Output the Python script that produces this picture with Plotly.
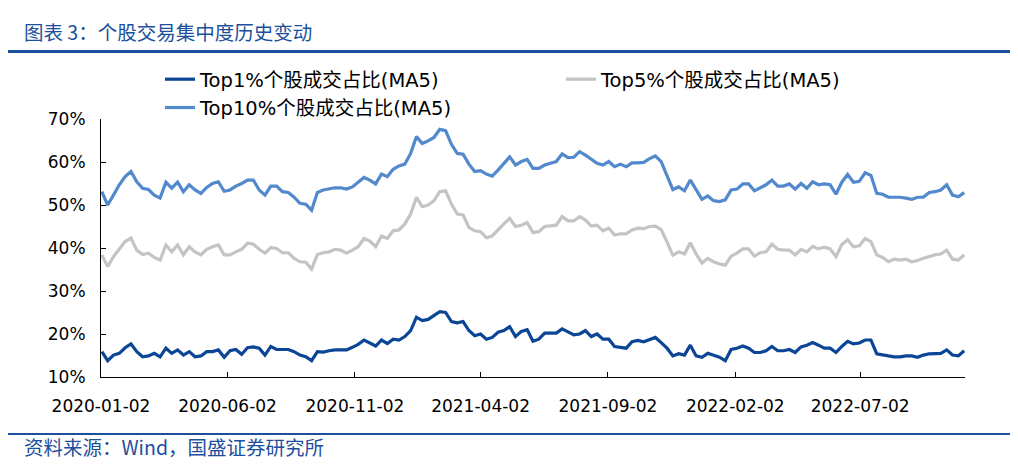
import pandas as pd
import plotly.graph_objects as go

# weekly sampled dates (Fridays) from 2020-01-03 to 2022-11-04
dates = pd.date_range("2020-01-03", periods=149, freq="7D")

top1 = [15.9, 13.8, 15.1, 15.5, 16.8, 17.7, 15.9, 14.7, 14.9, 15.5, 14.7, 16.7, 15.5, 16.3, 15.1, 15.9, 14.7, 14.9, 15.9, 15.9, 16.3, 14.6, 16.1, 16.4, 15.3,
        16.8, 17.0, 16.7, 15.1, 17.1, 16.4, 16.4, 16.4, 15.9, 15.1, 14.7, 13.8, 15.9, 15.8, 16.1, 16.3, 16.3, 16.3, 16.9, 17.6, 18.6, 18.0, 17.2, 18.6, 17.8,
        18.8, 18.6, 19.4, 20.8, 23.9, 23.1, 23.4, 24.2, 25.2, 25.0, 22.9, 22.6, 22.9, 20.8, 19.6, 20.0, 18.8, 19.2, 20.4, 20.8, 21.7, 19.4, 20.6, 21.0, 18.3,
        18.8, 20.2, 20.2, 20.2, 21.2, 20.4, 19.8, 20.0, 20.8, 19.4, 20.0, 18.8, 18.8, 17.1, 16.9, 16.7, 18.2, 18.5, 18.2, 18.8, 19.2, 18.0, 16.7, 14.9, 15.4,
        15.1, 17.4, 14.9, 14.6, 15.5, 15.1, 14.6, 13.8, 16.4, 16.7, 17.2, 16.7, 15.7, 15.7, 16.1, 17.1, 16.1, 16.1, 16.4, 15.7, 17.0, 17.4, 18.0, 17.4, 16.7,
        16.7, 15.7, 17.1, 18.3, 17.7, 17.9, 18.6, 18.6, 15.4, 15.1, 14.9, 14.7, 14.7, 14.9, 14.9, 14.6, 15.1, 15.4, 15.5, 15.5, 16.3, 15.1, 14.9, 16.1]

top5 = [38.4, 35.7, 38.0, 39.7, 41.5, 42.3, 39.5, 38.5, 38.8, 37.8, 37.2, 40.7, 39.1, 40.7, 38.4, 40.3, 39.1, 38.4, 39.7, 40.3, 40.7, 38.4, 38.4, 39.1, 39.7,
        41.1, 40.9, 39.7, 38.8, 40.1, 39.9, 38.9, 38.9, 37.6, 36.8, 36.7, 35.1, 38.5, 38.9, 39.1, 39.7, 39.5, 38.8, 39.5, 40.3, 42.2, 41.6, 40.3, 42.8, 42.2,
        44.0, 44.2, 45.6, 47.9, 51.8, 49.6, 50.0, 51.0, 53.1, 53.3, 50.2, 47.9, 47.7, 44.8, 44.0, 43.8, 42.4, 42.8, 44.3, 45.6, 46.9, 45.0, 45.3, 45.9, 43.6,
        43.8, 45.0, 45.1, 45.3, 47.3, 46.3, 46.3, 47.3, 46.5, 45.1, 45.3, 44.0, 44.6, 43.0, 43.3, 43.3, 44.2, 44.6, 44.5, 45.0, 45.1, 44.3, 41.4, 38.3, 39.1,
        38.6, 41.2, 38.6, 36.5, 37.6, 36.8, 36.3, 36.0, 38.1, 38.8, 39.8, 39.8, 38.1, 38.9, 39.1, 40.9, 39.7, 39.5, 39.5, 38.4, 39.7, 39.1, 40.4, 39.8, 40.2,
        39.8, 38.0, 40.8, 41.9, 40.3, 40.5, 42.2, 41.5, 38.4, 37.8, 36.8, 37.4, 37.2, 37.4, 36.8, 37.1, 37.6, 38.0, 38.4, 38.6, 39.5, 37.4, 37.2, 38.4]

top10 = [53.1, 50.0, 52.3, 54.7, 56.6, 57.8, 55.4, 53.9, 53.6, 52.3, 51.6, 55.3, 53.9, 55.3, 53.1, 54.7, 53.5, 52.7, 54.1, 55.0, 55.4, 53.2, 53.5, 54.4, 55.0,
         55.8, 55.8, 53.5, 52.3, 54.4, 54.4, 53.1, 52.9, 51.8, 50.4, 50.2, 48.8, 52.9, 53.5, 53.7, 54.0, 54.0, 53.7, 54.2, 55.2, 56.4, 55.8, 54.9, 57.2, 56.6,
         58.3, 59.1, 59.5, 62.0, 65.9, 64.3, 64.9, 65.7, 67.6, 67.3, 64.1, 62.0, 61.8, 59.5, 57.8, 58.0, 57.2, 56.7, 58.1, 59.7, 61.2, 59.3, 60.1, 60.6, 58.5,
         58.5, 59.3, 59.7, 60.1, 61.9, 61.0, 61.1, 62.4, 61.6, 60.6, 59.7, 59.3, 60.1, 58.9, 59.5, 58.9, 59.8, 59.8, 59.9, 60.8, 61.4, 60.1, 56.6, 53.6, 54.2,
         53.3, 55.8, 53.5, 51.3, 52.1, 51.0, 50.8, 51.2, 53.5, 53.7, 54.9, 54.9, 53.3, 53.9, 54.7, 55.8, 54.4, 54.4, 54.9, 53.7, 55.0, 53.9, 55.4, 54.7, 54.9,
         54.7, 52.5, 55.3, 57.1, 55.3, 55.5, 57.5, 56.9, 52.7, 52.5, 51.8, 51.8, 51.8, 51.6, 51.3, 51.8, 51.8, 52.9, 53.1, 53.5, 54.7, 52.3, 51.9, 52.9]

series_names = ["Top1%个股成交占比(MA5)", "Top5%个股成交占比(MA5)", "Top10%个股成交占比(MA5)"]
tick_labels = ["2020-01-02", "2020-06-02", "2020-11-02", "2021-04-02", "2021-09-02", "2022-02-02", "2022-07-02"]
y_ticks = [10, 20, 30, 40, 50, 60, 70]

title_text = "图表 3：个股交易集中度历史变动"
source_text = "资料来源：Wind，国盛证券研究所"

colors = ["#0B4596", "#C4C4C4", "#5289CC"]
FONT = "DejaVu Sans, Noto Sans CJK SC, sans-serif"
CJK = "Noto Sans CJK SC, sans-serif"

fig = go.Figure()
for name, vals, col in zip(series_names, [top1, top5, top10], colors):
    fig.add_trace(go.Scatter(x=dates, y=vals, mode="lines", name=name,
                             line=dict(color=col, width=3.2)))

# page has an 8px body margin; reference coordinates are given in window pixels
OFF = 8
W, H = 1010, 464
L, R, T, B = 93, 53, 111, 95
pw, ph = W - L - R, H - T - B

def px(x):
    return (x - OFF - L) / pw

def py(y):
    return (H - B - (y - OFF)) / ph

fig.update_layout(
    width=W, height=H,
    margin=dict(l=L, r=R, t=T, b=B),
    paper_bgcolor="white", plot_bgcolor="white",
    font=dict(family=FONT, size=17, color="black"),
    showlegend=True,
    legend=dict(orientation="h", x=px(160), y=py(60), xanchor="left", yanchor="top",
                entrywidth=356, entrywidthmode="pixels",
                font=dict(family=FONT, size=19.5, color="black"),
                bgcolor="rgba(0,0,0,0)", tracegroupgap=0, itemwidth=30),
    xaxis=dict(type="date", range=["2020-01-02", "2022-11-05"],
               tickmode="array", tickvals=tick_labels, ticktext=tick_labels,
               showgrid=False, zeroline=False, showline=True, linecolor="black", linewidth=1,
               ticks="inside", ticklen=5, tickcolor="black", ticklabelstandoff=14,
               tickfont=dict(family=FONT, size=17, color="black")),
    yaxis=dict(range=[10, 70], tickmode="array", tickvals=y_ticks,
               ticktext=[f"{v}%" for v in y_ticks],
               showgrid=False, zeroline=False, showline=True, linecolor="black", linewidth=1,
               ticks="inside", ticklen=5, tickcolor="black", ticklabelstandoff=11,
               tickfont=dict(family=FONT, size=17, color="black")),
)

fig.add_shape(type="line", xref="paper", yref="paper", x0=px(8), x1=px(1010), y0=py(51.5), y1=py(51.5),
              line=dict(color="#1C4F9C", width=3))
fig.add_shape(type="line", xref="paper", yref="paper", x0=px(8), x1=px(1010), y0=py(434), y1=py(434),
              line=dict(color="#1C4F9C", width=2))
fig.add_annotation(text=title_text, xref="paper", yref="paper", x=px(22), y=py(31),
                   xanchor="left", yanchor="middle", showarrow=False,
                   font=dict(family=CJK, size=19.5, color="#1C4F9C"))
fig.add_annotation(text=source_text, xref="paper", yref="paper", x=px(22), y=py(446),
                   xanchor="left", yanchor="middle", showarrow=False,
                   font=dict(family=CJK, size=19.5, color="#1C4F9C"))

fig.write_html("out.html")
